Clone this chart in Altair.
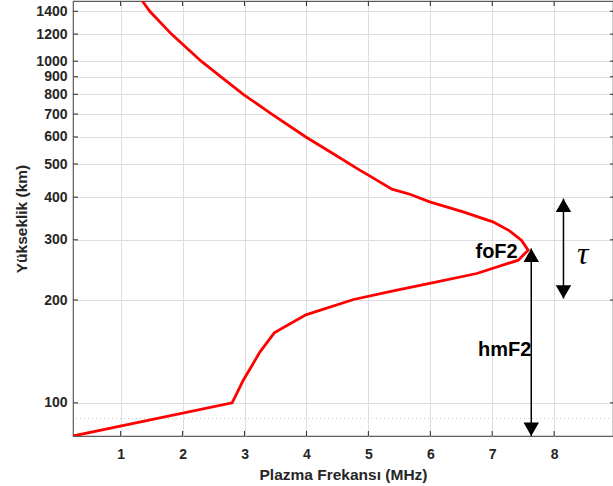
import altair as alt
import pandas as pd

# Electron-density profile (plasma frequency vs. height)
freq = [0.23, 2.80, 2.98, 3.25, 3.48, 3.99, 4.76, 5.46, 5.99, 6.75, 7.42, 7.58,
        7.47, 7.28, 7.01, 6.53, 5.99, 5.67, 5.38, 5.00, 4.86, 4.38, 3.99, 3.44,
        2.98, 2.62, 2.30, 1.82, 1.47, 1.35]
height = [80, 100, 116.5, 141, 160.3, 181, 200.7, 213.7, 223.6, 239.1, 261.6, 279.8,
          299.3, 318.7, 338.6, 362.2, 387.5, 408, 422, 464, 480, 543, 600, 700,
          800, 900, 1000, 1200, 1400, 1500]

x_ticks = [1, 2, 3, 4, 5, 6, 7, 8, 9]
y_ticks = [100, 200, 300, 400, 500, 600, 700, 800, 900, 1000, 1200, 1400]
minor_y = [90]

# arrows: hmF2 and tau
arrow_x = [7.63, 8.15]
arrow_lo = [80, 202]
arrow_hi = [283, 396]

labels = ["foF2", "hmF2"]
label_x = [7.07, 7.20]
label_y = [276.6, 142.7]
tau_x = [8.46]
tau_y = [272]

FONT = "Liberation Sans"
TXT = "#262626"

xs = alt.Scale(domain=[0.23, 8.95], nice=False, zero=False)
ys = alt.Scale(type="log", domain=[80, 1500], nice=False)

xaxis = alt.Axis(values=x_ticks, format="d", title="Plazma Frekansı (MHz)",
                 grid=True, gridColor="#dedede", gridWidth=1, ticks=False, tickSize=0,
                 domain=False, labelPadding=11, labelFlush=False, labelOverlap=False,
                 titleBaseline="alphabetic", titleY=43)
yaxis = alt.Axis(values=y_ticks, format="d", title="Yükseklik (km)",
                 grid=True, gridColor="#dedede", gridWidth=1, ticks=False, tickSize=0,
                 domain=False, labelPadding=6, labelOverlap=False, labelFlush=False,
                 titleBaseline="alphabetic", titleX=-47)

curve_df = pd.DataFrame({"x": freq, "y": height, "i": list(range(len(freq)))})
minor_df = pd.DataFrame({"y": minor_y})
xt_df = pd.DataFrame({"x": x_ticks[:-1]})
yt_df = pd.DataFrame({"y": y_ticks})
arrow_df = pd.DataFrame({"x": arrow_x, "y": arrow_lo, "y2": arrow_hi})
label_df = pd.DataFrame({"x": label_x, "y": label_y, "t": labels})
tau_df = pd.DataFrame({"x": tau_x, "y": tau_y, "t": ["τ"]})

X = alt.X("x:Q", scale=xs, axis=xaxis)
Y = alt.Y("y:Q", scale=ys, axis=yaxis)

minor = alt.Chart(minor_df).mark_rule(color="#c8c8c8", strokeDash=[1, 3], strokeWidth=1).encode(y=Y)

curve = alt.Chart(curve_df).mark_line(color="#ff0000", strokeWidth=2.8, clip=True).encode(
    x=X, y=Y, order="i:Q")

tick_bottom = alt.Chart(xt_df).mark_rule(color=TXT, strokeWidth=1).encode(
    x=X, y=alt.value(435), y2=alt.value(430))
tick_top = alt.Chart(xt_df).mark_rule(color=TXT, strokeWidth=1).encode(
    x=X, y=alt.value(0), y2=alt.value(5))
tick_left = alt.Chart(yt_df).mark_rule(color=TXT, strokeWidth=1).encode(
    y=Y, x=alt.value(0), x2=alt.value(5))
tick_right = alt.Chart(yt_df).mark_rule(color=TXT, strokeWidth=1).encode(
    y=Y, x=alt.value(537), x2=alt.value(540))

shaft = alt.Chart(arrow_df).mark_rule(color="black", strokeWidth=1.5).encode(
    x=X, y=Y, y2="y2:Q")
head_up = alt.Chart(arrow_df).mark_point(shape="triangle-up", size=240, filled=True,
                                         color="black", opacity=1, yOffset=6.7).encode(
    x=X, y=alt.Y("y2:Q", scale=ys, axis=yaxis))
head_down = alt.Chart(arrow_df).mark_point(shape="triangle-down", size=240, filled=True,
                                           color="black", opacity=1, yOffset=-6.7).encode(
    x=X, y=Y)

text = alt.Chart(label_df).mark_text(font=FONT, fontWeight="bold", fontSize=20,
                                     color="black", align="center", baseline="middle").encode(
    x=X, y=Y, text="t:N")
tau = alt.Chart(tau_df).mark_text(font="Liberation Serif", fontStyle="italic", fontSize=32,
                                  color="black", align="center", baseline="middle").encode(
    x=X, y=Y, text="t:N")

chart = alt.layer(minor, curve, tick_bottom, tick_top, tick_left, tick_right,
                  shaft, head_up, head_down, text, tau).properties(
    width=540, height=435,
    autosize=alt.AutoSizeParams(type="none"),
    padding={"left": 73, "top": 1, "right": 0, "bottom": 50},
).configure_view(
    stroke="#5e5e5e", strokeWidth=1.2
).configure_axis(
    labelFont=FONT, labelFontSize=14, labelFontWeight="bold", labelColor=TXT,
    titleFont=FONT, titleFontSize=15.5, titleFontWeight="bold", titleColor=TXT,
)

chart.save("out.html", embed_options={"renderer": "svg", "actions": False})
